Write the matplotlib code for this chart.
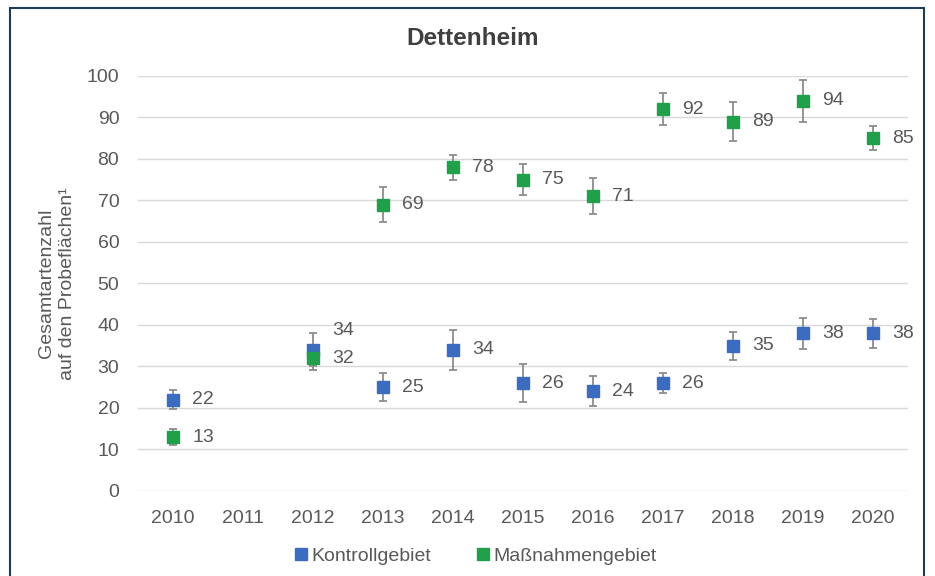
import numpy as np
import matplotlib
matplotlib.use("Agg")
import matplotlib.pyplot as plt
from matplotlib.patches import Rectangle

plt.rcParams['font.family'] = ['Liberation Sans', 'DejaVu Sans']

# data
years = ['2010', '2011', '2012', '2013', '2014', '2015', '2016', '2017', '2018', '2019', '2020']
kontroll = [22, np.nan, 34, 25, 34, 26, 24, 26, 35, 38, 38]
kontroll_err = [2.3, np.nan, 4.0, 3.4, 4.8, 4.5, 3.6, 2.5, 3.4, 3.7, 3.5]
massnahme = [13, np.nan, 32, 69, 78, 75, 71, 92, 89, 94, 85]
massnahme_err = [2.0, np.nan, 2.8, 4.2, 3.0, 3.8, 4.3, 3.8, 4.7, 5.0, 2.9]
yticks = [0, 10, 20, 30, 40, 50, 60, 70, 80, 90, 100]

blue = '#3b6cc0'
green = '#20a04a'
grey_text = '#595959'
fs = 14

fig = plt.figure(figsize=(9.35, 5.76), dpi=100)
ax = fig.add_axes([0.1476, 0.1476, 0.8235, 0.7205])

x = np.arange(len(years))

# Kontrollgebiet first, Massnahmengebiet on top
for vals, errs, col, name in [(kontroll, kontroll_err, blue, 'Kontrollgebiet'),
                              (massnahme, massnahme_err, green, 'Maßnahmengebiet')]:
    ax.errorbar(x, vals, yerr=errs, fmt='none', ecolor='#8c8c8c', elinewidth=1.3,
                capsize=3, capthick=1.3, zorder=3)
    ax.plot(x, vals, linestyle='none', marker='s', markersize=8.6, color=col,
            label=name, zorder=4)

# data labels
for i in range(len(years)):
    if not np.isnan(kontroll[i]):
        dy = 14 if years[i] == '2012' else 0
        ax.annotate(str(kontroll[i]), (x[i], kontroll[i]), xytext=(14, dy),
                    textcoords='offset points', ha='left', va='center',
                    fontsize=fs, color=grey_text)
    if not np.isnan(massnahme[i]):
        ax.annotate(str(massnahme[i]), (x[i], massnahme[i]), xytext=(14, 0),
                    textcoords='offset points', ha='left', va='center',
                    fontsize=fs, color=grey_text)

ax.set_xlim(-0.5, len(years) - 0.5)
ax.set_ylim(0, 100)
ax.set_yticks(yticks)
ax.set_xticks(x)
ax.set_xticklabels(years)
ax.tick_params(axis='both', length=0, labelsize=fs, labelcolor=grey_text)
ax.tick_params(axis='y', pad=13.5)
ax.tick_params(axis='x', pad=14)
ax.grid(axis='y', color='#d9d9d9', linewidth=1)
ax.set_axisbelow(True)
for s in ax.spines.values():
    s.set_visible(False)

ax.set_ylabel('Gesamtartenzahl\nauf den Probeflächen¹', fontsize=fs,
              color=grey_text, linespacing=1.25)
ax.yaxis.set_label_coords(-0.081, 0.5)

fig.text(0.505, 0.933, 'Dettenheim', ha='center', va='center', fontsize=17.5,
         fontweight='bold', color='#404040')

fig.legend(loc='center', bbox_to_anchor=(0.507, 0.035), ncol=2, frameon=False,
           fontsize=fs, handletextpad=0.0, columnspacing=2.2, markerscale=0.95,
           handlelength=1.0, labelcolor=grey_text)

# border around the chart
fig.patches.append(Rectangle((10 / 935, -0.02), 914 / 935, 1 - 8 / 576 + 0.02,
                             transform=fig.transFigure, fill=False,
                             edgecolor='#1d3c55', linewidth=1.5))

fig.savefig('out.png', dpi=100)
